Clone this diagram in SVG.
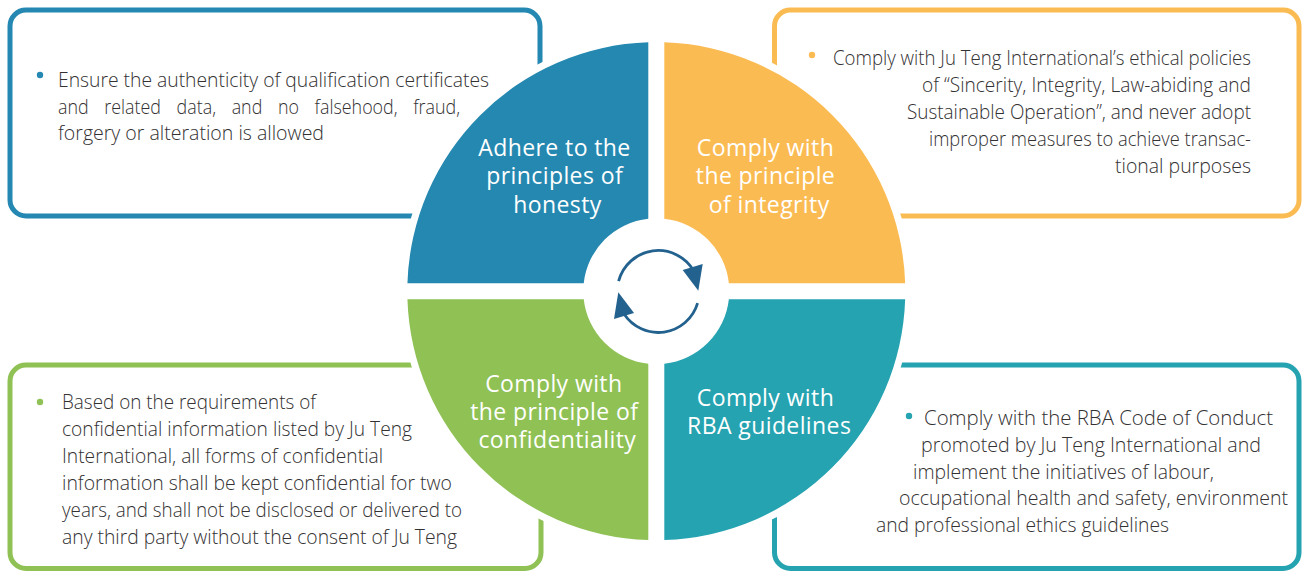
<svg xmlns="http://www.w3.org/2000/svg" width="1304" height="572" viewBox="0 0 1304 572">
<defs>
<style>
.box{fill:#ffffff;stroke-width:5}
.body{font-family:"Open Sans","Noto Sans","Liberation Sans",sans-serif;font-weight:300;font-size:19.5px;fill:#333132}
.lbl{font-family:"Open Sans","Noto Sans","Liberation Sans",sans-serif;font-size:23px;letter-spacing:0.4px;fill:#ffffff;text-anchor:middle}
.arc{fill:none;stroke:#23628f;stroke-width:2.8}
.head{fill:#23628f}
</style>
</defs>
<rect width="1304" height="572" fill="#ffffff"/>

<g id="box-honesty">
<rect class="box" x="10" y="10" width="530" height="206" rx="16" stroke="#2588b2"/>
<circle cx="40" cy="75" r="3.2" fill="#2588b2"/>
<text class="body" x="58" y="87" textLength="431" lengthAdjust="spacingAndGlyphs">Ensure the authenticity of qualification certificates</text>
<text class="body" x="58" y="113.5" textLength="402" lengthAdjust="spacingAndGlyphs" word-spacing="12">and related data, and no falsehood, fraud,</text>
<text class="body" x="58" y="140" textLength="266" lengthAdjust="spacingAndGlyphs">forgery or alteration is allowed</text>
</g>

<g id="box-integrity">
<rect class="box" x="774.5" y="10" width="524.5" height="206" rx="16" stroke="#fbbb53"/>
<circle cx="812" cy="55" r="3.2" fill="#fbbb53"/>
<text class="body" x="833" y="64.5" textLength="418" lengthAdjust="spacingAndGlyphs">Comply with Ju Teng International’s ethical policies</text>
<text class="body" x="922" y="91.5" textLength="329" lengthAdjust="spacingAndGlyphs">of “Sincerity, Integrity, Law-abiding and</text>
<text class="body" x="907" y="118.5" textLength="344" lengthAdjust="spacingAndGlyphs">Sustainable Operation”, and never adopt</text>
<text class="body" x="929" y="145.5" textLength="322" lengthAdjust="spacingAndGlyphs">improper measures to achieve transac-</text>
<text class="body" x="1115" y="172.5" textLength="136" lengthAdjust="spacingAndGlyphs">tional purposes</text>
</g>

<g id="box-confidentiality">
<rect class="box" x="10" y="365" width="531" height="203.5" rx="16" stroke="#8fc155"/>
<circle cx="40" cy="402" r="3.2" fill="#8fc155"/>
<text class="body" x="62" y="409" textLength="254" lengthAdjust="spacingAndGlyphs">Based on the requirements of</text>
<text class="body" x="62" y="436" textLength="350" lengthAdjust="spacingAndGlyphs">confidential information listed by Ju Teng</text>
<text class="body" x="62" y="463" textLength="321" lengthAdjust="spacingAndGlyphs">International, all forms of confidential</text>
<text class="body" x="62" y="490" textLength="390" lengthAdjust="spacingAndGlyphs">information shall be kept confidential for two</text>
<text class="body" x="62" y="517" textLength="400" lengthAdjust="spacingAndGlyphs">years, and shall not be disclosed or delivered to</text>
<text class="body" x="62" y="544" textLength="395" lengthAdjust="spacingAndGlyphs">any third party without the consent of Ju Teng</text>
</g>

<g id="box-rba">
<rect class="box" x="774.5" y="365" width="524.5" height="203.5" rx="16" stroke="#25a3b1"/>
<circle cx="909" cy="416" r="3.2" fill="#25a3b1"/>
<text class="body" x="924" y="425" textLength="349" lengthAdjust="spacingAndGlyphs">Comply with the RBA Code of Conduct</text>
<text class="body" x="921" y="452" textLength="340" lengthAdjust="spacingAndGlyphs">promoted by Ju Teng International and</text>
<text class="body" x="913" y="478.5" textLength="301" lengthAdjust="spacingAndGlyphs">implement the initiatives of labour,</text>
<text class="body" x="899" y="505" textLength="389" lengthAdjust="spacingAndGlyphs">occupational health and safety, environment</text>
<text class="body" x="876" y="532" textLength="293" lengthAdjust="spacingAndGlyphs">and professional ethics guidelines</text>
</g>

<circle id="circle-mask" cx="656.3" cy="291.2" r="256" fill="#ffffff"/>

<g id="q-honesty">
<path d="M648.3 42.33 A249 249 0 0 0 407.43 283.2 L583.74 283.2 A73 73 0 0 1 648.3 218.64 Z" fill="#2588b0"/>
<text class="lbl" x="554.5" y="155.5">Adhere to the</text>
<text class="lbl" x="554.7" y="183.5">principles of</text>
<text class="lbl" x="557.5" y="212.5">honesty</text>
</g>

<g id="q-integrity">
<path d="M664.3 42.33 A249 249 0 0 1 905.17 283.2 L728.86 283.2 A73 73 0 0 0 664.3 218.64 Z" fill="#fbbb53"/>
<text class="lbl" x="765.5" y="155.5">Comply with</text>
<text class="lbl" x="765.5" y="183.5">the principle</text>
<text class="lbl" x="769.2" y="212.5">of integrity</text>
</g>

<g id="q-confidentiality">
<path d="M648.3 540.07 A249 249 0 0 1 407.43 299.2 L583.74 299.2 A73 73 0 0 0 648.3 363.76 Z" fill="#8fc155"/>
<text class="lbl" x="553.8" y="391.5">Comply with</text>
<text class="lbl" x="554.3" y="419.5">the principle of</text>
<text class="lbl" x="557.3" y="447.5">confidentiality</text>
</g>

<g id="q-rba">
<path d="M664.3 540.07 A249 249 0 0 0 905.17 299.2 L728.86 299.2 A73 73 0 0 1 664.3 363.76 Z" fill="#25a3b1"/>
<text class="lbl" x="765.5" y="405.5">Comply with</text>
<text class="lbl" x="769.2" y="433.5">RBA guidelines</text>
</g>

<g id="connectors">
<path class="arc" d="M618.6 281.2 A41 41 0 0 1 693.8 271"/>
<polygon class="head" points="682.7,270 702.7,264 698.3,290.7"/>
<path class="arc" d="M697.6 303.1 A41 41 0 0 1 623.9 313.8"/>
<polygon class="head" points="634,313 614,319 618.3,292.3"/>
</g>
</svg>
